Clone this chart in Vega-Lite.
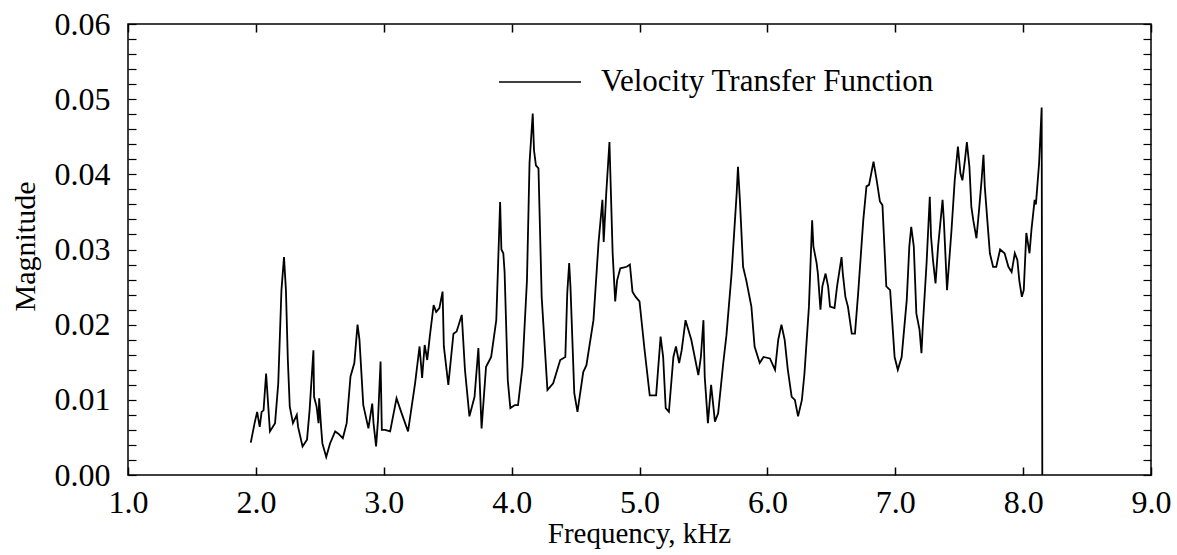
{
  "$schema": "https://vega.github.io/schema/vega-lite/v6.json",
  "width": 1023,
  "height": 451,
  "autosize": {"type": "none"},
  "padding": {"left": 128, "top": 24, "right": 26, "bottom": 80},
  "background": "white",
  "config": {"view": {"stroke": "black", "strokeWidth": 1.5}, "font": "Liberation Serif"},
  "data": {"values": [
    {"f":1.96,"m":0.0043},{"f":1.99,"m":0.0069},{"f":2.01,"m":0.0084},{"f":2.03,"m":0.0064},{"f":2.045,"m":0.0084},{"f":2.06,"m":0.0086},{"f":2.08,"m":0.0135},{"f":2.09,"m":0.0109},{"f":2.11,"m":0.0058},{"f":2.15,"m":0.0069},{"f":2.175,"m":0.0122},{"f":2.2,"m":0.0246},{"f":2.22,"m":0.029},{"f":2.235,"m":0.0246},{"f":2.25,"m":0.0153},{"f":2.265,"m":0.0091},{"f":2.29,"m":0.0069},{"f":2.32,"m":0.008},{"f":2.33,"m":0.0064},{"f":2.365,"m":0.0038},{"f":2.4,"m":0.0047},{"f":2.42,"m":0.0086},{"f":2.45,"m":0.0166},{"f":2.455,"m":0.0104},{"f":2.475,"m":0.0091},{"f":2.49,"m":0.0069},{"f":2.495,"m":0.0102},{"f":2.51,"m":0.0064},{"f":2.52,"m":0.0042},{"f":2.55,"m":0.0024},{"f":2.58,"m":0.0042},{"f":2.62,"m":0.0058},{"f":2.645,"m":0.0055},{"f":2.68,"m":0.0049},{"f":2.71,"m":0.0069},{"f":2.74,"m":0.0131},{"f":2.77,"m":0.0149},{"f":2.795,"m":0.02},{"f":2.81,"m":0.018},{"f":2.84,"m":0.0093},{"f":2.88,"m":0.0062},{"f":2.91,"m":0.0095},{"f":2.92,"m":0.0069},{"f":2.94,"m":0.0038},{"f":2.955,"m":0.0073},{"f":2.975,"m":0.0151},{"f":2.985,"m":0.006},{"f":3.01,"m":0.006},{"f":3.05,"m":0.0058},{"f":3.1,"m":0.0102},{"f":3.14,"m":0.0082},{"f":3.19,"m":0.0058},{"f":3.245,"m":0.0122},{"f":3.28,"m":0.0171},{"f":3.3,"m":0.0129},{"f":3.32,"m":0.0173},{"f":3.34,"m":0.0153},{"f":3.36,"m":0.0184},{"f":3.39,"m":0.0226},{"f":3.41,"m":0.0217},{"f":3.435,"m":0.0222},{"f":3.46,"m":0.0244},{"f":3.47,"m":0.0171},{"f":3.505,"m":0.012},{"f":3.545,"m":0.0188},{"f":3.57,"m":0.0191},{"f":3.61,"m":0.0213},{"f":3.635,"m":0.014},{"f":3.67,"m":0.0078},{"f":3.71,"m":0.0104},{"f":3.74,"m":0.0169},{"f":3.765,"m":0.0062},{"f":3.8,"m":0.0144},{"f":3.84,"m":0.0157},{"f":3.88,"m":0.0206},{"f":3.91,"m":0.0363},{"f":3.92,"m":0.03},{"f":3.935,"m":0.0295},{"f":3.945,"m":0.027},{"f":3.97,"m":0.0126},{"f":3.99,"m":0.0089},{"f":4.025,"m":0.0093},{"f":4.05,"m":0.0093},{"f":4.085,"m":0.0144},{"f":4.12,"m":0.0259},{"f":4.14,"m":0.0415},{"f":4.165,"m":0.0481},{"f":4.175,"m":0.0432},{"f":4.19,"m":0.0412},{"f":4.21,"m":0.0408},{"f":4.235,"m":0.0237},{"f":4.28,"m":0.0113},{"f":4.325,"m":0.0122},{"f":4.38,"m":0.0153},{"f":4.42,"m":0.0157},{"f":4.435,"m":0.0242},{"f":4.45,"m":0.0282},{"f":4.46,"m":0.0251},{"f":4.49,"m":0.0109},{"f":4.515,"m":0.0084},{"f":4.56,"m":0.0137},{"f":4.585,"m":0.0146},{"f":4.64,"m":0.0206},{"f":4.68,"m":0.031},{"f":4.71,"m":0.0366},{"f":4.72,"m":0.031},{"f":4.74,"m":0.0375},{"f":4.765,"m":0.0443},{"f":4.775,"m":0.0384},{"f":4.79,"m":0.0295},{"f":4.81,"m":0.0231},{"f":4.825,"m":0.0259},{"f":4.85,"m":0.0275},{"f":4.9,"m":0.0277},{"f":4.925,"m":0.028},{"f":4.945,"m":0.0244},{"f":4.97,"m":0.0237},{"f":5.0,"m":0.0231},{"f":5.04,"m":0.0166},{"f":5.08,"m":0.0106},{"f":5.13,"m":0.0106},{"f":5.165,"m":0.0184},{"f":5.185,"m":0.0157},{"f":5.205,"m":0.0089},{"f":5.23,"m":0.0084},{"f":5.265,"m":0.0157},{"f":5.285,"m":0.0171},{"f":5.31,"m":0.0149},{"f":5.33,"m":0.0166},{"f":5.36,"m":0.0206},{"f":5.405,"m":0.018},{"f":5.46,"m":0.0133},{"f":5.48,"m":0.0157},{"f":5.5,"m":0.0206},{"f":5.51,"m":0.0131},{"f":5.535,"m":0.0069},{"f":5.56,"m":0.012},{"f":5.59,"m":0.0071},{"f":5.615,"m":0.0082},{"f":5.655,"m":0.0149},{"f":5.68,"m":0.0186},{"f":5.72,"m":0.0268},{"f":5.76,"m":0.0375},{"f":5.77,"m":0.041},{"f":5.785,"m":0.0366},{"f":5.81,"m":0.0277},{"f":5.835,"m":0.0259},{"f":5.875,"m":0.0224},{"f":5.9,"m":0.0171},{"f":5.94,"m":0.0149},{"f":5.97,"m":0.0157},{"f":6.02,"m":0.0155},{"f":6.06,"m":0.014},{"f":6.085,"m":0.018},{"f":6.11,"m":0.02},{"f":6.135,"m":0.018},{"f":6.16,"m":0.014},{"f":6.19,"m":0.0104},{"f":6.215,"m":0.01},{"f":6.24,"m":0.0078},{"f":6.27,"m":0.01},{"f":6.29,"m":0.0135},{"f":6.325,"m":0.0224},{"f":6.35,"m":0.0339},{"f":6.36,"m":0.0304},{"f":6.385,"m":0.0282},{"f":6.395,"m":0.0268},{"f":6.415,"m":0.022},{"f":6.43,"m":0.0251},{"f":6.455,"m":0.0268},{"f":6.475,"m":0.0251},{"f":6.49,"m":0.0224},{"f":6.525,"m":0.0222},{"f":6.545,"m":0.0251},{"f":6.58,"m":0.029},{"f":6.59,"m":0.0268},{"f":6.61,"m":0.0237},{"f":6.63,"m":0.0224},{"f":6.66,"m":0.0188},{"f":6.685,"m":0.0188},{"f":6.71,"m":0.0242},{"f":6.75,"m":0.0339},{"f":6.775,"m":0.0384},{"f":6.795,"m":0.0386},{"f":6.83,"m":0.0417},{"f":6.855,"m":0.0392},{"f":6.88,"m":0.0364},{"f":6.9,"m":0.0359},{"f":6.93,"m":0.0251},{"f":6.96,"m":0.0246},{"f":6.995,"m":0.0157},{"f":7.02,"m":0.014},{"f":7.05,"m":0.0157},{"f":7.09,"m":0.0233},{"f":7.11,"m":0.0304},{"f":7.125,"m":0.033},{"f":7.145,"m":0.0304},{"f":7.165,"m":0.0215},{"f":7.19,"m":0.0193},{"f":7.205,"m":0.0162},{"f":7.215,"m":0.0197},{"f":7.245,"m":0.0282},{"f":7.27,"m":0.037},{"f":7.28,"m":0.0317},{"f":7.295,"m":0.0286},{"f":7.315,"m":0.0255},{"f":7.335,"m":0.0304},{"f":7.37,"m":0.0366},{"f":7.38,"m":0.0339},{"f":7.405,"m":0.0246},{"f":7.44,"m":0.0326},{"f":7.465,"m":0.0392},{"f":7.49,"m":0.0437},{"f":7.51,"m":0.0401},{"f":7.525,"m":0.0392},{"f":7.545,"m":0.0419},{"f":7.56,"m":0.0443},{"f":7.58,"m":0.041},{"f":7.595,"m":0.0357},{"f":7.61,"m":0.0339},{"f":7.635,"m":0.0315},{"f":7.655,"m":0.0352},{"f":7.675,"m":0.0392},{"f":7.69,"m":0.0426},{"f":7.7,"m":0.0384},{"f":7.72,"m":0.0339},{"f":7.74,"m":0.0295},{"f":7.765,"m":0.0277},{"f":7.79,"m":0.0277},{"f":7.82,"m":0.03},{"f":7.855,"m":0.0295},{"f":7.885,"m":0.0277},{"f":7.91,"m":0.027},{"f":7.935,"m":0.0295},{"f":7.955,"m":0.0286},{"f":7.97,"m":0.0259},{"f":7.99,"m":0.0237},{"f":8.005,"m":0.0246},{"f":8.025,"m":0.0322},{"f":8.05,"m":0.0295},{"f":8.065,"m":0.0326},{"f":8.09,"m":0.0366},{"f":8.1,"m":0.036},{"f":8.125,"m":0.0415},{"f":8.145,"m":0.0489},{"f":8.15,"m":0.0}
  ]},
  "layer": [
    {
      "mark": {"type": "line", "color": "black", "strokeWidth": 1.8},
      "encoding": {
        "x": {"field": "f", "type": "quantitative",
          "scale": {"domain": [1, 9], "nice": false, "zero": false},
          "axis": {"orient": "bottom", "values": [1,2,3,4,5,6,7,8,9], "format": ".1f",
            "labelFontSize": 32, "labelColor": "black", "labelFont": "Liberation Serif", "labelFlush": false, "labelPadding": 20, "labelOverlap": false,
            "tickSize": -8, "tickColor": "black", "tickWidth": 1.5, "domain": false, "grid": false,
            "title": "Frequency, kHz", "titleFont": "Liberation Serif", "titleFontSize": 29, "titleFontWeight": "normal", "titleColor": "black",
            "titleBaseline": "alphabetic", "titleY": 67, "titleX": 511}},
        "y": {"field": "m", "type": "quantitative",
          "scale": {"domain": [0, 0.06], "nice": false},
          "axis": {"orient": "left", "values": [0,0.002,0.004,0.006,0.008,0.01,0.012,0.014,0.016,0.018,0.02,0.022,0.024,0.026,0.028,0.03,0.032,0.034,0.036,0.038,0.04,0.042,0.044,0.046,0.048,0.05,0.052,0.054,0.056,0.058,0.06],
            "labelExpr": "abs(datum.value*100 - round(datum.value*100)) < 0.001 ? format(datum.value, '.2f') : ''",
            "labelOverlap": false, "labelFlush": false,
            "labelFontSize": 32, "labelColor": "black", "labelFont": "Liberation Serif", "labelPadding": 26,
            "tickSize": -8, "tickColor": "black", "tickWidth": 1.2, "domain": false, "grid": false,
            "title": "Magnitude", "titleFont": "Liberation Serif", "titleFontSize": 30, "titleFontWeight": "normal", "titleColor": "black",
            "titleBaseline": "middle", "titleX": -103, "titleY": 222}},
        "color": {"datum": "Velocity Transfer Function", "type": "nominal",
          "scale": {"range": ["black"]},
          "legend": {"orient": "none", "legendX": 370, "legendY": 16, "title": null, "padding": 0,
            "symbolType": "stroke", "symbolSize": 6724, "symbolStrokeWidth": 1.5, "symbolStrokeColor": "black",
            "labelFont": "Liberation Serif", "labelFontSize": 31, "labelColor": "black", "labelOffset": 19, "labelLimit": 0}}
      }
    },
    {
      "mark": {"type": "line", "opacity": 0},
      "encoding": {
        "x": {"field": "f", "type": "quantitative",
          "scale": {"domain": [1, 9], "nice": false, "zero": false},
          "axis": {"orient": "top", "values": [1,2,3,4,5,6,7,8,9], "labels": false, "tickSize": -8, "tickColor": "black", "tickWidth": 1.5, "domain": false, "grid": false, "title": null}},
        "y": {"field": "m", "type": "quantitative",
          "scale": {"domain": [0, 0.06], "nice": false},
          "axis": {"orient": "right", "values": [0,0.002,0.004,0.006,0.008,0.01,0.012,0.014,0.016,0.018,0.02,0.022,0.024,0.026,0.028,0.03,0.032,0.034,0.036,0.038,0.04,0.042,0.044,0.046,0.048,0.05,0.052,0.054,0.056,0.058,0.06], "labels": false, "tickSize": -8, "tickColor": "black", "tickWidth": 1.2, "domain": false, "grid": false, "title": null}}
      }
    }
  ],
  "resolve": {"axis": {"x": "independent", "y": "independent"}}
}
